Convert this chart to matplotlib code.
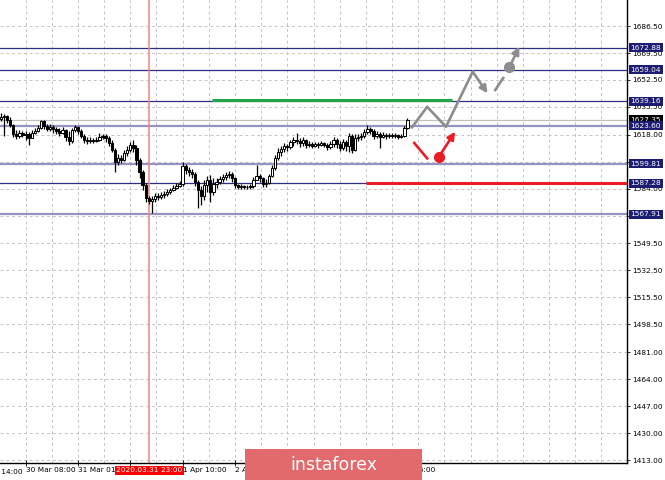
import matplotlib
matplotlib.use("Agg")
import matplotlib.pyplot as plt
import matplotlib.transforms as mtransforms
from matplotlib.patches import Rectangle
import numpy as np

# H1 gold candles (price units)
first_open = 1627.9
closes = [1629.2, 1629.8, 1627.3, 1624.1, 1618.4, 1617.2, 1619.1, 1617.8, 1618.4, 1615.9,
          1619.1, 1620.3, 1622.2, 1626.6, 1623.5, 1621.6, 1622.9, 1621.6, 1620.3, 1619.1,
          1621.0, 1616.5, 1614.0, 1621.0, 1622.9, 1620.3, 1617.2, 1614.7, 1614.0, 1614.7,
          1614.0, 1614.7, 1616.5, 1617.2, 1615.9, 1612.8, 1608.4, 1600.8, 1603.3, 1602.1,
          1606.5, 1608.4, 1611.5, 1609.6, 1602.1, 1594.5, 1586.3, 1578.1, 1576.2, 1577.5,
          1579.4, 1578.7, 1580.0, 1580.6, 1581.9, 1583.2, 1584.4, 1585.7, 1586.9, 1598.3,
          1595.8, 1594.5, 1593.2, 1588.2, 1583.2, 1579.4, 1586.3, 1589.5, 1581.9, 1586.9,
          1588.2, 1590.1, 1591.3, 1592.6, 1593.2, 1590.7, 1586.3, 1585.0, 1585.7, 1585.0,
          1585.0, 1585.7, 1589.5, 1592.0, 1590.7, 1586.9, 1587.6, 1592.0, 1597.0, 1603.3,
          1607.1, 1609.0, 1610.9, 1610.2, 1613.4, 1614.7, 1614.0, 1612.8, 1614.7, 1611.5,
          1612.1, 1610.9, 1612.1, 1611.5, 1612.8, 1611.5, 1610.2, 1612.1, 1614.7, 1612.1,
          1609.6, 1613.4, 1610.9, 1617.2, 1608.4, 1615.9, 1616.5, 1617.2, 1619.7, 1621.6,
          1620.3, 1617.2, 1618.4, 1616.5, 1617.8, 1617.2, 1617.8, 1617.2, 1617.8, 1616.5,
          1617.2, 1622.2, 1627.3]
highs = [1631.7, 1631.0, 1630.4, 1629.2, 1624.7, 1621.0, 1621.0, 1620.3, 1620.3, 1619.7,
         1621.0, 1622.2, 1624.1, 1627.3, 1627.3, 1624.7, 1624.7, 1624.1, 1622.9, 1622.2,
         1622.9, 1621.6, 1620.3, 1622.2, 1624.1, 1623.5, 1621.6, 1618.4, 1616.5, 1616.5,
         1615.9, 1616.5, 1619.1, 1618.4, 1618.4, 1617.2, 1614.7, 1609.6, 1605.8, 1605.2,
         1608.4, 1610.9, 1613.4, 1614.7, 1611.5, 1603.3, 1595.8, 1587.6, 1579.4, 1579.4,
         1581.3, 1581.3, 1581.9, 1582.5, 1583.8, 1584.4, 1586.3, 1587.6, 1588.8, 1600.8,
         1599.5, 1597.6, 1596.4, 1594.5, 1589.5, 1585.7, 1589.5, 1592.0, 1592.6, 1590.7,
         1590.7, 1592.0, 1593.2, 1594.5, 1595.1, 1594.5, 1591.3, 1586.9, 1586.9, 1586.3,
         1586.3, 1586.9, 1591.3, 1598.9, 1593.2, 1591.3, 1590.1, 1593.2, 1598.9, 1605.2,
         1609.6, 1610.9, 1612.8, 1612.1, 1614.7, 1616.5, 1619.1, 1615.9, 1616.5, 1615.3,
         1614.0, 1613.4, 1613.4, 1613.4, 1614.0, 1613.4, 1612.8, 1614.0, 1616.5, 1615.9,
         1614.0, 1615.3, 1614.7, 1619.1, 1618.4, 1618.4, 1618.4, 1619.1, 1621.6, 1624.1,
         1622.9, 1621.6, 1620.3, 1619.7, 1619.7, 1619.1, 1619.1, 1619.1, 1619.1, 1618.4,
         1618.4, 1623.5, 1628.5]
lows = [1626.6, 1617.2, 1625.4, 1622.9, 1616.5, 1615.3, 1615.9, 1616.5, 1614.7, 1611.5,
        1616.5, 1618.4, 1619.7, 1621.6, 1621.6, 1620.3, 1620.3, 1619.1, 1618.4, 1617.2,
        1618.4, 1614.0, 1611.5, 1612.8, 1619.7, 1618.4, 1615.9, 1612.8, 1612.1, 1612.8,
        1612.8, 1613.4, 1614.0, 1615.3, 1613.4, 1610.9, 1607.1, 1594.5, 1598.9, 1600.2,
        1601.4, 1604.6, 1607.1, 1607.1, 1598.9, 1590.7, 1583.2, 1575.6, 1574.3, 1568.7,
        1575.6, 1576.9, 1577.5, 1578.1, 1579.4, 1580.6, 1582.5, 1583.8, 1585.0, 1585.7,
        1593.2, 1592.0, 1590.7, 1585.7, 1571.8, 1573.7, 1576.9, 1581.9, 1575.6, 1580.0,
        1584.4, 1586.9, 1588.2, 1589.5, 1590.7, 1588.2, 1584.4, 1583.8, 1583.8, 1583.8,
        1583.8, 1583.8, 1584.4, 1589.5, 1588.2, 1585.0, 1585.0, 1586.9, 1591.3, 1595.8,
        1602.1, 1604.6, 1607.1, 1607.7, 1609.0, 1610.9, 1612.1, 1610.2, 1610.9, 1609.6,
        1610.2, 1609.6, 1610.2, 1609.6, 1610.9, 1610.2, 1608.4, 1609.0, 1610.2, 1609.6,
        1607.7, 1608.4, 1607.7, 1607.1, 1606.5, 1607.7, 1614.0, 1614.7, 1615.9, 1618.4,
        1618.4, 1615.3, 1615.9, 1609.6, 1615.9, 1615.3, 1615.9, 1615.9, 1615.9, 1615.3,
        1615.9, 1616.5, 1621.6]
opens = [first_open] + closes[:-1]

price_ticks = [1686.50, 1669.50, 1652.50, 1635.50, 1618.00, 1601.00, 1584.00, 1567.00,
               1549.50, 1532.50, 1515.50, 1498.50, 1481.00, 1464.00, 1447.00, 1430.00, 1413.00]
thin_levels = [1672.88, 1659.04, 1639.16, 1587.28]
thick_levels = [1623.60, 1599.81, 1567.91]
current_price = 1627.35

date_ticks = [8, 25, 42, 59, 76, 93, 110, 127]
date_labels = ["30 Mar 08:00", "31 Mar 01:00", "31 Mar 18:00", "1 Apr 10:00",
               "2 Apr 03:00", "2 Apr 20:00", "3 Apr 13:00", "6 Apr 06:00"]
first_date = (-9, "27 Mar 14:00")
cursor_bar = 48.2
cursor_label = "2020.03.31 23:00"

# forecast drawing
green_bars = [68.7, 146.6]
green_price = 1639.6
red_bars = [118.5, 204]
red_price = 1587.28
gray_bars = [133.5, 138.4, 144.5, 153.2, 158.0]
gray_prices = [1622.7, 1635.6, 1623.0, 1657.7, 1644.1]
gray_dash_bars = [160.5, 163.1]
gray_dash_prices = [1646.2, 1653.7]
gray_dot = (165.1, 1660.5)
gray_tip = (168.3, 1673.5)
red_dash_bars = [134.2, 138.4]
red_dash_prices = [1612.8, 1603.1]
red_dot = (142.1, 1603.8)
red_tip = (147.5, 1619.9)

navy = "#2e2e86"
lavender = "#9494c4"
label_bg = "#1c1c72"
gray = "#8c8c8c"
red = "#ec1c24"

fig = plt.figure(figsize=(6.65, 4.8), dpi=100)
ax = fig.add_axes([0, 0.036, 0.9429, 0.964])
ax.set_xlim(-0.3, 203.3)
ax.set_ylim(1411.3, 1702.9)

# grid
for gx in np.arange(-0.5, 204, 8.5):
    ax.axvline(gx, color="#c4c4c4", lw=0.7, ls=(0, (3, 3)), zorder=0)
for gy in price_ticks:
    ax.axhline(gy, color="#c4c4c4", lw=0.7, ls=(0, (3, 3)), zorder=0)

# levels
ax.axhline(current_price, color="#c0c0c0", lw=0.9, zorder=1)
for lv in thin_levels:
    ax.axhline(lv, color=navy, lw=0.9, zorder=1)
for lv in thick_levels:
    ax.axhline(lv, color=lavender, lw=1.6, zorder=1)

ax.axvline(cursor_bar, color="#f38484", lw=1.1, zorder=1)

# candles
x = np.arange(len(closes))
o = np.array(opens)
c = np.array(closes)
ax.vlines(x, lows, highs, color="black", lw=0.9, zorder=3)
up = c >= o
ax.bar(x[up], (c - o)[up], bottom=o[up], width=0.75, color="white",
       edgecolor="black", lw=0.7, zorder=4)
ax.bar(x[~up], (o - c)[~up], bottom=c[~up], width=0.75, color="black",
       edgecolor="black", lw=0.7, zorder=4)

# forecast lines
ax.plot(green_bars, [green_price] * 2, color="#22a548", lw=2.2, solid_capstyle="butt", zorder=5)
ax.plot(red_bars, [red_price] * 2, color=red, lw=2.2, solid_capstyle="butt", zorder=5)

ax.plot(gray_bars[:4], gray_prices[:4], color=gray, lw=1.9, zorder=6)
ax.annotate("", xy=(gray_bars[4], gray_prices[4]), xytext=(gray_bars[3], gray_prices[3]),
            arrowprops=dict(arrowstyle="-|>", color=gray, lw=1.9, mutation_scale=11,
                            shrinkA=0, shrinkB=0), zorder=6)
ax.plot(gray_dash_bars, gray_dash_prices, color=gray, lw=1.9, zorder=6)
ax.plot(*gray_dot, "o", color=gray, ms=7, zorder=6)
ax.annotate("", xy=gray_tip, xytext=gray_dot,
            arrowprops=dict(arrowstyle="-|>", color=gray, lw=1.9, mutation_scale=11,
                            shrinkA=0, shrinkB=0), zorder=6)

ax.plot(red_dash_bars, red_dash_prices, color=red, lw=1.9, zorder=6)
ax.plot(*red_dot, "o", color=red, ms=7, zorder=6)
ax.annotate("", xy=red_tip, xytext=red_dot,
            arrowprops=dict(arrowstyle="-|>", color=red, lw=1.9, mutation_scale=11,
                            shrinkA=0, shrinkB=0), zorder=6)

# axes look
for s in ["left", "top"]:
    ax.spines[s].set_visible(False)
ax.spines["right"].set_color("black")
ax.spines["bottom"].set_color("black")
ax.spines["right"].set_linewidth(1.0)
ax.spines["bottom"].set_linewidth(1.0)

ax.yaxis.tick_right()
ax.set_yticks(price_ticks)
ax.set_yticklabels(["%.2f" % p for p in price_ticks])
ax.tick_params(axis="y", direction="out", length=2.5, width=0.6, pad=1.5,
               labelsize=5.3, colors="black")
ax.set_xticks(date_ticks)
ax.set_xticklabels(date_labels)
ax.tick_params(axis="x", direction="inout", length=4, width=0.6, pad=1.2, labelsize=5.3)
for lab in ax.get_xticklabels():
    lab.set_ha("left")

trans_x = mtransforms.blended_transform_factory(ax.transData, ax.transAxes)
ax.text(first_date[0], -0.019, first_date[1], transform=trans_x, fontsize=5.3,
        ha="left", va="center", clip_on=False)

# price labels on the right
trans_y = mtransforms.blended_transform_factory(ax.transAxes, ax.transData)
ax.annotate("%.2f" % current_price, xy=(1, current_price), xycoords=trans_y,
            xytext=(2.6, 0), textcoords="offset points", ha="left", va="center",
            fontsize=5.3, color="white", zorder=9,
            bbox=dict(boxstyle="square,pad=0.2", fc="black", ec="none"))
for lv in sorted(thin_levels + thick_levels, reverse=True):
    ax.annotate("%.2f" % lv, xy=(1, lv), xycoords=trans_y,
                xytext=(2.6, 0), textcoords="offset points", ha="left", va="center",
                fontsize=5.3, color="white", zorder=10,
                bbox=dict(boxstyle="square,pad=0.2", fc=label_bg, ec="none"))

# cursor date label
ax.annotate(cursor_label, xy=(cursor_bar, 0), xycoords=trans_x,
            xytext=(0, -5.6), textcoords="offset points", ha="center", va="center",
            fontsize=5.3, color="white", zorder=10, annotation_clip=False,
            bbox=dict(boxstyle="square,pad=0.2", fc="#ff0000", ec="none"))

# watermark
fig.add_artist(Rectangle((245 / 665, 0), 177 / 665, 31 / 480, transform=fig.transFigure,
                         fc="#e26a6d", ec="none", zorder=20))
fig.text(333.5 / 665, 15 / 480, "instaforex", color="white", fontsize=12.5,
         ha="center", va="center", zorder=21)

fig.savefig("out.png", dpi=100)
